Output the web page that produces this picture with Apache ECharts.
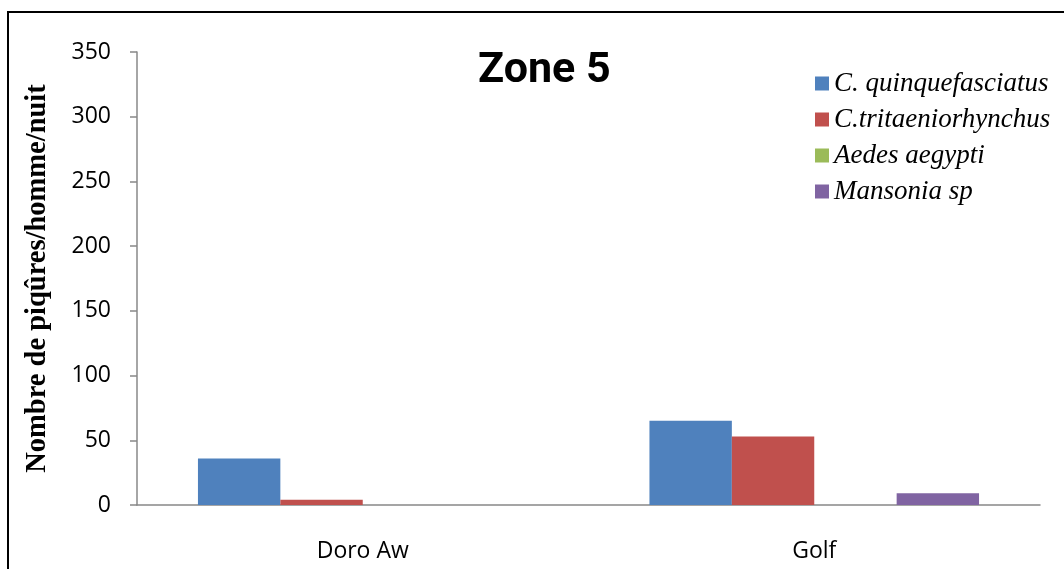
<!DOCTYPE html>
<html>
<head>
<meta charset="utf-8">
<script src="https://cdn.jsdelivr.net/npm/echarts@6/dist/echarts.min.js"></script>
<style>
  html, body { margin: 0; padding: 0; background: #ffffff; }
  #chart { width: 1064px; height: 569px; }
</style>
</head>
<body>
<div id="chart"></div>
<script>
// Sites sampled in zone 5
const categories = ['Doro Aw', 'Golf'];

// Bites per person per night, by mosquito species
const quinquefasciatus = [36, 65];
const tritaeniorhynchus = [4, 53];
const aegypti = [0, 0];
const mansonia = [0, 9];

const seriesNames = ['C. quinquefasciatus', 'C.tritaeniorhynchus', 'Aedes aegypti', 'Mansonia sp'];
const seriesColors = ['#4F81BD', '#C0504D', '#9BBB59', '#8064A2'];
const seriesValues = [quinquefasciatus, tritaeniorhynchus, aegypti, mansonia];

const chart = echarts.init(document.getElementById('chart'), null, { renderer: 'canvas' });

const axisGrey = '#888888';

chart.setOption({
  backgroundColor: '#ffffff',
  animation: false,
  title: {
    text: 'Zone 5',
    left: 473,
    top: 45,
    textStyle: { fontFamily: 'Roboto', fontWeight: 'bold', fontSize: 43, color: '#000000' }
  },
  legend: {
    orient: 'vertical',
    left: 810,
    top: 65,
    itemWidth: 14,
    itemHeight: 14,
    itemGap: 9,
    icon: 'rect',
    data: seriesNames,
    textStyle: { fontFamily: 'Liberation Serif', fontStyle: 'italic', fontSize: 27, color: '#000000' }
  },
  grid: { left: 137, right: 24, top: 52, bottom: 64 },
  xAxis: {
    type: 'category',
    data: categories,
    axisLine: { lineStyle: { color: axisGrey, width: 1.5 } },
    axisTick: { length: 8, lineStyle: { color: axisGrey, width: 1.5 } },
    axisLabel: { margin: 35, fontFamily: 'Open Sans', fontSize: 23, color: '#000000' }
  },
  yAxis: {
    type: 'value',
    min: 0,
    max: 350,
    interval: 50,
    name: 'Nombre de piqûres/homme/nuit',
    nameLocation: 'middle',
    nameGap: 85,
    nameTextStyle: { fontFamily: 'Liberation Serif', fontWeight: 'bold', fontSize: 28.5, color: '#000000' },
    splitLine: { show: false },
    axisLine: { show: true, lineStyle: { color: axisGrey, width: 1.5 } },
    axisTick: { show: true, length: 7, lineStyle: { color: axisGrey, width: 1.5 } },
    axisLabel: { margin: 26, fontFamily: 'Open Sans', fontSize: 23, color: '#000000' }
  },
  series: seriesNames.map((name, i) => ({
    name: name,
    type: 'bar',
    data: seriesValues[i],
    barGap: '0%',
    barCategoryGap: '27%',
    itemStyle: { color: seriesColors[i] }
  })),
  graphic: [{
    type: 'rect',
    shape: { x: 8, y: 12, width: 1070, height: 580 },
    style: { fill: 'none', stroke: '#000000', lineWidth: 2 },
    silent: true
  }]
});
</script>
</body>
</html>
